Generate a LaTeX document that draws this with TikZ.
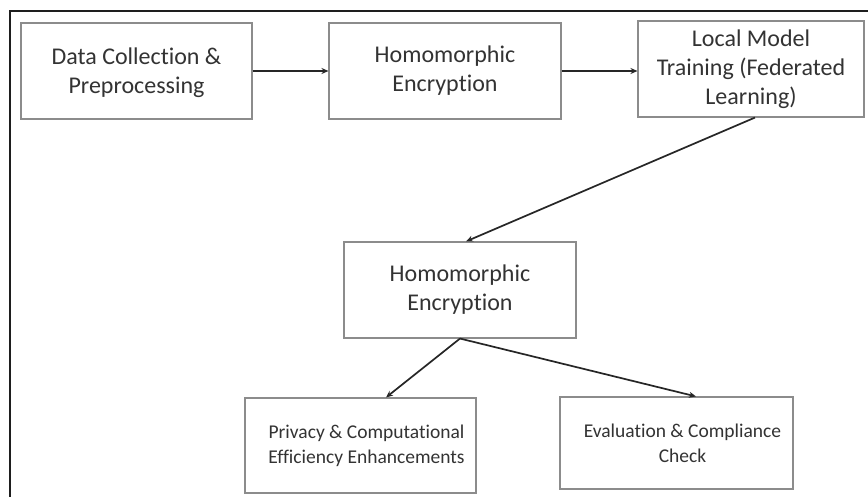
\documentclass[tikz,border=0pt]{standalone}
\usepackage{fontspec}
\setmainfont{Carlito}[Ligatures={NoCommon,NoContextual}]
\usetikzlibrary{arrows.meta,calc}
\definecolor{boxline}{HTML}{8C8C8C}
\definecolor{txt}{HTML}{333333}
\definecolor{frameline}{HTML}{1E1E1E}
\begin{document}
\begin{tikzpicture}[x=1pt,y=-1pt,
  stepbox/.style={draw=boxline,line width=1.1pt,fill=white,rectangle,align=center,
    text=txt,font=\fontsize{24}{29}\selectfont,inner sep=0pt},
  smallbox/.style={stepbox,font=\fontsize{19.5}{25}\selectfont},
  link/.style={draw=black!85,line width=1.7pt,-{Stealth[length=7pt,width=6pt]}}]
\useasboundingbox (0,0) rectangle (868,497);
\fill[white] (0,0) rectangle (868,497);
\draw[frameline,line width=1.8pt] (10,497) -- (10,11) -- (868,11);

\node[stepbox,minimum width=231pt,minimum height=96pt,text depth=-3pt] (b1) at (136.5,71)
  {Data Collection \&\\Preprocessing};
\node[stepbox,minimum width=232pt,minimum height=96pt] (b2) at (445,71)
  {Homomorphic\\Encryption};
\node[stepbox,minimum width=226pt,minimum height=96pt] (b3) at (751,69)
  {Local Model\\Training (Federated\\Learning)};
\node[stepbox,minimum width=232pt,minimum height=96pt] (m) at (460,290)
  {Homomorphic\\Encryption};
\node[smallbox,minimum width=231pt,minimum height=95pt] (l) at (360.5,445.5)
  {\hspace*{12pt}Privacy \& Computational\\\hspace*{12pt}Efficiency Enhancements};
\node[smallbox,minimum width=233pt,minimum height=92pt] (r) at (676.5,443)
  {\hspace*{12pt}Evaluation \& Compliance\\\hspace*{12pt}Check};

\draw[link] (b1.east) -- (b2.west);
\draw[link] (b2.east) -- (b2.east -| b3.west);
\draw[link] ($(b3.south)+(4,0)$) -- ($(m.north)+(6,0)$);
\draw[link] (m.south) -- ($(l.north)+(25.5,0)$);
\draw[link] (m.south) -- ($(r.north)+(19.5,0)$);
\end{tikzpicture}
\end{document}
